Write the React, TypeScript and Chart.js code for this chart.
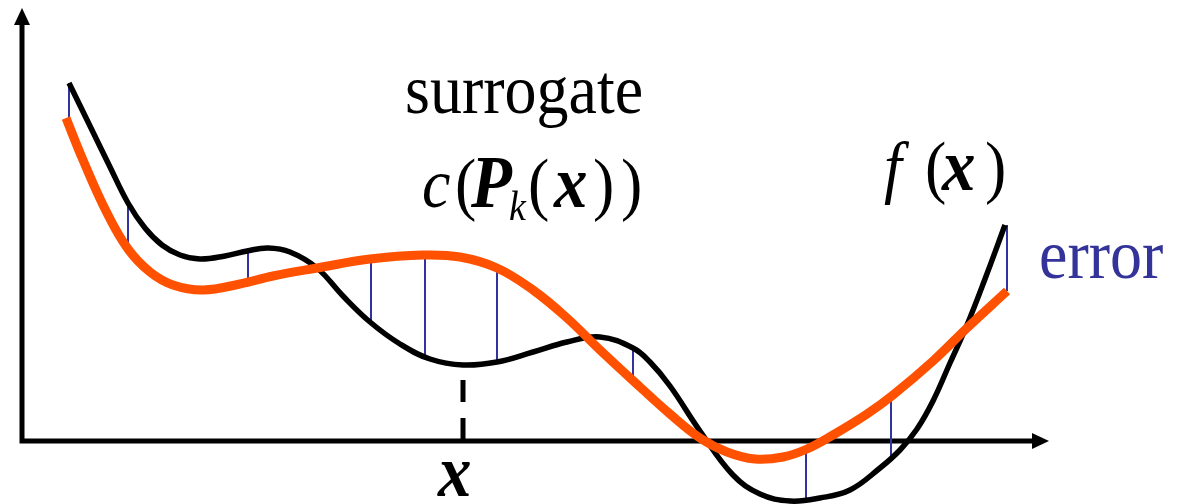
import React, { useEffect, useRef } from "react";
import { Chart, registerables } from "chart.js";

Chart.register(...registerables);

// f(x): the true function (black)
const fX = [69, 90, 110, 128, 145, 162, 180, 200, 225, 247, 268, 290, 317, 343, 370, 400, 430, 463, 497, 533, 567, 600, 633, 650, 670, 700, 733, 760, 790, 820, 850, 880, 900, 917, 933, 950, 967, 985, 1005];
const fY = [358, 315, 274, 238, 213, 196, 186, 182, 185, 190, 193, 189, 173, 145, 119, 97, 82, 76, 79, 89, 99, 104, 93, 79, 55, 10, -34, -53, -60, -57, -49, -27, -9, 12, 40, 78, 116, 162, 216];

// surrogate c(P_k(x)) (orange)
const sX = [66, 83, 107, 128, 150, 173, 203, 240, 273, 317, 370, 423, 460, 497, 533, 567, 600, 640, 670, 700, 727, 755, 783, 807, 833, 867, 893, 933, 967, 1007];
const sY = [323, 281, 228, 192, 169, 156, 151, 157, 165, 173, 182, 186, 184, 173, 151, 123, 91, 54, 27, 3, -11, -18, -16, -8, 6, 27, 46, 80, 113, 150];

// error bars between f and surrogate
const errX = [69, 128, 248, 371, 425, 497, 633, 806, 891, 1007];
const errF = [358, 236, 190, 118, 82, 79, 93, -60, -19, 216];
const errS = [318, 192, 160, 182, 186, 173, 62, -8, 45, 150];

// marked point x on the axis
const markX = [463, 463];
const markY = [0, 61];

const X_MIN = 0;
const X_MAX = 1177;
const Y_MIN = -63;
const Y_MAX = 441;
const Y_AXIS_X = 22;
const Y_AXIS_TOP = 433;
const X_AXIS_END = 1049;

const SERIF = "'Liberation Serif', 'Times New Roman', serif";

type Run = { t: string; x: number; font: string; dy?: number };

function drawRuns(ctx: CanvasRenderingContext2D, baseline: number, runs: Run[], color: string, sy: number) {
  ctx.save();
  ctx.fillStyle = color;
  ctx.textBaseline = "alphabetic";
  ctx.textAlign = "left";
  ctx.translate(0, baseline);
  ctx.scale(1, sy);
  for (const r of runs) {
    ctx.font = r.font;
    ctx.fillText(r.t, r.x, (r.dy || 0) / sy);
  }
  ctx.restore();
}

const decorPlugin = {
  id: "decor",
  beforeDatasetsDraw(chart: any) {
    const ctx: CanvasRenderingContext2D = chart.ctx;
    const xs = chart.scales.x;
    const ys = chart.scales.y;
    const ox = xs.getPixelForValue(Y_AXIS_X);
    const oy = ys.getPixelForValue(0);
    const top = ys.getPixelForValue(Y_AXIS_TOP);
    const right = xs.getPixelForValue(X_AXIS_END);
    ctx.save();
    ctx.strokeStyle = "#000";
    ctx.fillStyle = "#000";
    ctx.lineWidth = 5;
    ctx.lineCap = "butt";
    ctx.beginPath();
    ctx.moveTo(ox, oy + 2.5);
    ctx.lineTo(ox, top + 14);
    ctx.moveTo(ox - 2.5, oy);
    ctx.lineTo(right - 14, oy);
    ctx.stroke();
    // arrow heads
    ctx.beginPath();
    ctx.moveTo(ox, top);
    ctx.lineTo(ox - 8, top + 17);
    ctx.lineTo(ox + 8, top + 17);
    ctx.closePath();
    ctx.fill();
    ctx.beginPath();
    ctx.moveTo(right, oy);
    ctx.lineTo(right - 17, oy - 8);
    ctx.lineTo(right - 17, oy + 8);
    ctx.closePath();
    ctx.fill();
    ctx.restore();
  },
  afterDraw(chart: any) {
    const ctx: CanvasRenderingContext2D = chart.ctx;
    const F = 64;
    const FX = 67;
    const sy = 1.1;
    drawRuns(ctx, 113, [{ t: "surrogate", x: 405, font: `${F}px ${SERIF}` }], "#000", sy);
    drawRuns(
      ctx,
      207,
      [
        { t: "c", x: 422, font: `italic ${F}px ${SERIF}` },
        { t: "(", x: 455, font: `${F}px ${SERIF}` },
        { t: "P", x: 471, font: `italic bold ${FX}px ${SERIF}` },
        { t: "k", x: 509, font: `italic ${Math.round(F * 0.6)}px ${SERIF}`, dy: 13 },
        { t: "(", x: 528, font: `${F}px ${SERIF}` },
        { t: "x", x: 554, font: `italic bold ${FX}px ${SERIF}` },
        { t: ")", x: 593, font: `${F}px ${SERIF}` },
        { t: ")", x: 621, font: `${F}px ${SERIF}` },
      ],
      "#000",
      sy
    );
    drawRuns(
      ctx,
      190,
      [
        { t: "f", x: 884, font: `italic ${F}px ${SERIF}` },
        { t: "(", x: 925, font: `${F}px ${SERIF}` },
        { t: "x", x: 942, font: `italic bold ${FX}px ${SERIF}` },
        { t: ")", x: 985, font: `${F}px ${SERIF}` },
      ],
      "#000",
      sy
    );
    drawRuns(ctx, 278, [{ t: "error", x: 1039, font: `${F}px ${SERIF}` }], "#333399", sy);
    drawRuns(ctx, 496, [{ t: "x", x: 438, font: `italic bold ${FX}px ${SERIF}` }], "#000", sy);
  },
};

export default function App() {
  const ref = useRef<HTMLCanvasElement | null>(null);
  useEffect(() => {
    document.body.style.margin = "0";
    const canvas = ref.current;
    if (!canvas) return;
    const errData: any[] = [];
    errX.forEach((x, i) => {
      errData.push({ x, y: errF[i] });
      errData.push({ x, y: errS[i] });
      errData.push({ x, y: null });
    });
    const chart = new Chart(canvas, {
      type: "line",
      data: {
        datasets: [
          {
            label: "surrogate",
            data: sX.map((x, i) => ({ x, y: sY[i] })),
            borderColor: "#FF5100",
            borderWidth: 9,
            pointRadius: 0,
            tension: 0.4,
            borderCapStyle: "butt",
            borderJoinStyle: "round",
            fill: false,
            order: 0,
          },
          {
            label: "f(x)",
            data: fX.map((x, i) => ({ x, y: fY[i] })),
            borderColor: "#000000",
            borderWidth: 5.5,
            pointRadius: 0,
            tension: 0.4,
            borderJoinStyle: "round",
            fill: false,
            order: 1,
          },
          {
            label: "error",
            data: errData,
            borderColor: "#3333A0",
            borderWidth: 2,
            pointRadius: 0,
            tension: 0,
            spanGaps: false,
            fill: false,
            order: 2,
          },
          {
            label: "x",
            data: markX.map((x, i) => ({ x, y: markY[i] })),
            borderColor: "#000000",
            borderWidth: 5,
            borderDash: [23, 16],
            pointRadius: 0,
            tension: 0,
            fill: false,
            order: 3,
          },
        ],
      },
      options: {
        animation: false,
        responsive: false,
        maintainAspectRatio: false,
        layout: { padding: 0 },
        plugins: { legend: { display: false }, tooltip: { enabled: false } },
        scales: {
          x: { type: "linear", min: X_MIN, max: X_MAX, display: false },
          y: { type: "linear", min: Y_MIN, max: Y_MAX, display: false },
        },
      },
      plugins: [decorPlugin],
    } as any);
    return () => chart.destroy();
  }, []);
  return (
    <div style={{ width: 1177, height: 504, background: "#fff" }}>
      <canvas ref={ref} width={1177} height={504} style={{ display: "block" }} />
    </div>
  );
}
